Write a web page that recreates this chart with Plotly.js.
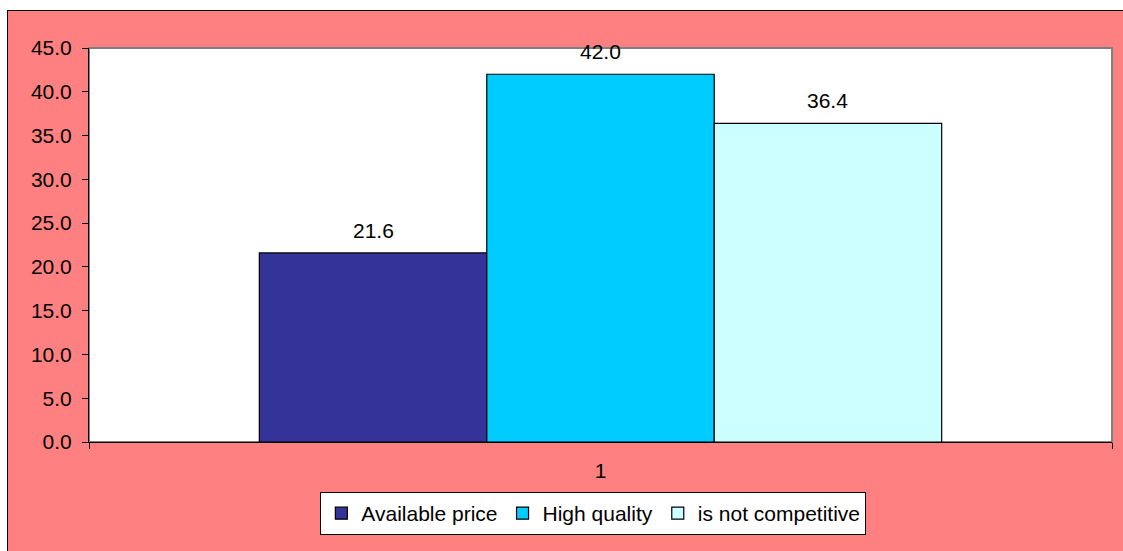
<!DOCTYPE html>
<html>
<head>
<meta charset="utf-8">
<script src="https://cdn.plot.ly/plotly-3.0.1.min.js"></script>
<style>
  html, body { margin: 0; padding: 0; background: #ffffff; width: 1123px; height: 551px; overflow: hidden; }
  #chart { position: absolute; left: 7px; top: 10px; width: 1115px; height: 540px;
           border-left: 1px solid #000; border-top: 1px solid #000; }
</style>
</head>
<body>
<div id="chart"></div>
<script>
const categories = ["1"];
const seriesNames = ["Available price", "High quality", "is not competitive"];
const availablePrice = [21.6];
const highQuality = [42.0];
const notCompetitive = [36.4];
const seriesColors = ["#333399", "#00CCFF", "#CCFFFF"];

const seriesValues = [availablePrice, highQuality, notCompetitive];
const font = { family: "Liberation Sans, Arial, sans-serif", size: 21, color: "#000000" };

const traces = seriesValues.map((vals, i) => ({
  type: "bar",
  name: seriesNames[i],
  x: categories,
  y: vals,
  marker: { color: seriesColors[i], line: { color: "#000000", width: 1.2 } },
  hoverinfo: "none"
}));

// value labels placed through the axes: x offset by group slot, y = value
const nSeries = seriesValues.length;
const bargap = 0.333;
const slot = (1 - bargap) / nSeries;
const annotations = [];
seriesValues.forEach((vals, i) => {
  vals.forEach((v, j) => {
    annotations.push({
      xref: "x", yref: "y",
      x: j - (1 - bargap) / 2 + slot * (i + 0.5),
      y: v,
      text: v.toFixed(1),
      showarrow: false,
      yanchor: "bottom",
      yshift: 9,
      font: font
    });
  });
});

const layout = {
  width: 1115,
  height: 540,
  margin: { l: 81, r: 11, t: 37, b: 109 },
  paper_bgcolor: "#FF8080",
  plot_bgcolor: "#FFFFFF",
  font: font,
  barmode: "group",
  bargap: bargap,
  bargroupgap: 0,
  showlegend: true,
  legend: {
    orientation: "h",
    x: 0.493, xanchor: "center",
    y: -0.127, yanchor: "top",
    bgcolor: "#FFFFFF",
    bordercolor: "#000000",
    borderwidth: 1,
    font: font,
    traceorder: "normal",
    itemwidth: 30
  },
  xaxis: {
    type: "category",
    range: [-0.5, 0.5],
    showline: true, linecolor: "#000000", linewidth: 1,
    ticks: "outside", tickson: "boundaries", ticklen: 6, tickcolor: "#000000",
    showgrid: false, zeroline: false,
    tickfont: font,
    ticklabelstandoff: 10
  },
  yaxis: {
    range: [0, 45], dtick: 5, tick0: 0,
    tickformat: ".1f",
    showline: true, linecolor: "#000000", linewidth: 1,
    ticks: "outside", ticklen: 6, tickcolor: "#000000",
    showgrid: false, zeroline: false,
    tickfont: font,
    ticklabelstandoff: 6
  },
  annotations: annotations,
  shapes: [{
    type: "rect", xref: "paper", yref: "paper", x0: 0, x1: 1, y0: 0, y1: 1,
    line: { color: "#808080", width: 2 }, layer: "below"
  }]
};

Plotly.newPlot("chart", traces, layout, { displayModeBar: false, staticPlot: true });
</script>
</body>
</html>
